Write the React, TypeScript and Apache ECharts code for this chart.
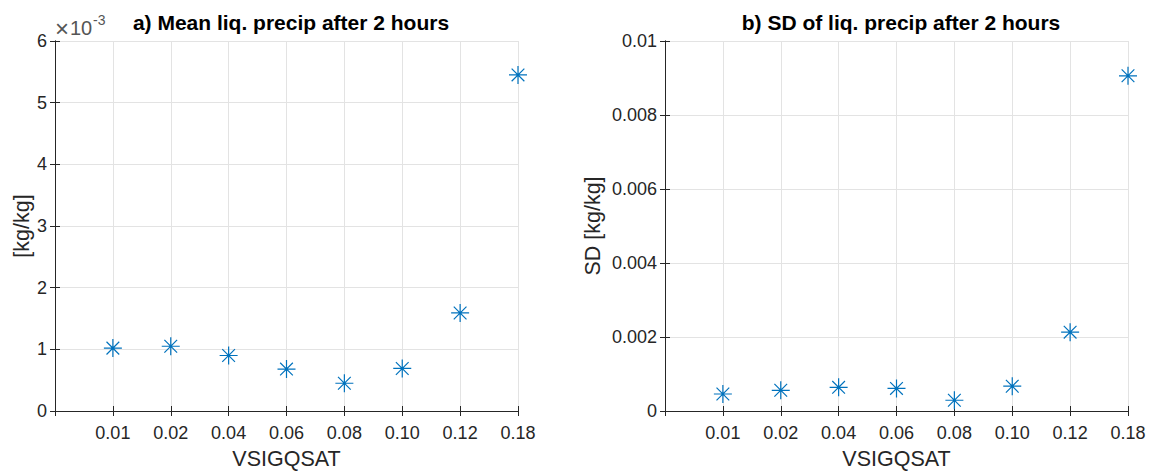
import React, { useEffect, useRef } from "react";
import * as echarts from "echarts";

// VSIGQSAT settings shown on the x axis (placed at positions 1..8)
const categories = ["0.01", "0.02", "0.04", "0.06", "0.08", "0.10", "0.12", "0.18"];
// Mean liquid precipitation after 2 hours [kg/kg]
const meanPrecip = [0.00102, 0.00105, 0.00090, 0.00068, 0.00045, 0.00069, 0.00159, 0.00545];
// Standard deviation of liquid precipitation after 2 hours [kg/kg]
const sdPrecip = [0.00046, 0.00056, 0.00064, 0.00061, 0.00029, 0.00067, 0.00213, 0.00906];
// Tick values of the two y axes
const meanTicks = [0, 0.001, 0.002, 0.003, 0.004, 0.005, 0.006];
const sdTicks = [0, 0.002, 0.004, 0.006, 0.008, 0.01];

const FONT = "'Liberation Sans', Arial, Helvetica, sans-serif";
const TXT = "#262626";
const AX = "#262626";
const GRIDC = "#e3e3e3";
const BLUE = "#0072BD";
const STAR = "path://M8,0 L8,16 M0,8 L16,8 M2.35,2.35 L13.65,13.65 M2.35,13.65 L13.65,2.35";
const TICK_FS = 18;
const LABEL_FS = 21.5;
const TITLE_FS = 21;

const trimNum = (v: number, dec: number) => {
  const s = v.toFixed(dec);
  return s.indexOf(".") >= 0 ? s.replace(/0+$/, "").replace(/\.$/, "") : s;
};

export default function App() {
  const ref = useRef<HTMLDivElement>(null);
  useEffect(() => {
    if (!ref.current) return;
    const chart = echarts.init(ref.current, undefined, { renderer: "svg" });

    const grids = [
      { left: 55, right: 636, top: 41, bottom: 60, outerBoundsMode: "none", containLabel: false },
      { left: 665, right: 26, top: 41, bottom: 60, outerBoundsMode: "none", containLabel: false },
    ];

    const xAxes: any[] = [];
    const yAxes: any[] = [];
    grids.forEach((_, gi) => {
      // bottom x axis with labels
      xAxes.push({
        type: "value",
        gridIndex: gi,
        min: 0,
        max: 8,
        interval: 1,
        position: "bottom",
        name: "VSIGQSAT",
        nameLocation: "middle",
        nameGap: 37,
        nameTextStyle: { fontFamily: FONT, fontSize: LABEL_FS, color: TXT },
        axisLine: { show: true, lineStyle: { color: AX, width: 1 } },
        axisTick: { show: true, inside: true, length: 5, lineStyle: { color: AX } },
        axisLabel: {
          fontFamily: FONT,
          fontSize: TICK_FS,
          color: TXT,
          margin: 13,
          showMinLabel: true,
          showMaxLabel: true,
          formatter: (v: number) => (v >= 1 && v <= categories.length ? categories[Math.round(v) - 1] : ""),
        },
        splitLine: { show: true, lineStyle: { color: GRIDC, width: 1 } },
      });
      // top x axis (box edge with inward ticks)
      xAxes.push({
        type: "value",
        gridIndex: gi,
        min: 0,
        max: 8,
        interval: 1,
        position: "top",
        axisLine: { show: true, lineStyle: { color: AX, width: 1 } },
        axisTick: { show: true, inside: true, length: 5, lineStyle: { color: AX } },
        axisLabel: { show: false },
        splitLine: { show: false },
      });
      const ticks = gi === 0 ? meanTicks : sdTicks;
      const step = ticks[1] - ticks[0];
      yAxes.push({
        type: "value",
        gridIndex: gi,
        min: ticks[0],
        max: ticks[ticks.length - 1],
        interval: step,
        position: "left",
        name: gi === 0 ? "[kg/kg]" : "SD [kg/kg]",
        nameLocation: "middle",
        nameGap: gi === 0 ? 21 : 61,
        nameTextStyle: { fontFamily: FONT, fontSize: LABEL_FS, color: TXT },
        axisLine: { show: true, lineStyle: { color: AX, width: 1 } },
        axisTick: { show: true, inside: true, length: 5, lineStyle: { color: AX } },
        axisLabel: {
          fontFamily: FONT,
          fontSize: TICK_FS,
          color: TXT,
          margin: 8,
          formatter: (v: number) =>
            gi === 0 ? trimNum(v * 1000, 3) : trimNum(v, 4),
        },
        splitLine: { show: true, lineStyle: { color: GRIDC, width: 1 } },
      });
      yAxes.push({
        type: "value",
        gridIndex: gi,
        min: ticks[0],
        max: ticks[ticks.length - 1],
        interval: step,
        position: "right",
        axisLine: { show: true, lineStyle: { color: AX, width: 1 } },
        axisTick: { show: true, inside: true, length: 5, lineStyle: { color: AX } },
        axisLabel: { show: false },
        splitLine: { show: false },
      });
    });

    const mkSeries = (vals: number[], gi: number) => ({
      type: "scatter",
      xAxisIndex: gi * 2,
      yAxisIndex: gi * 2,
      data: vals.map((v, i) => [i + 1, v]),
      symbol: STAR,
      symbolSize: 18,
      clip: false,
      itemStyle: { color: "none", borderColor: BLUE, borderWidth: 1.2, opacity: 1 },
      emphasis: { disabled: true },
    });

    chart.setOption({
      animation: false,
      backgroundColor: "#ffffff",
      title: [
        {
          text: "a) Mean liq. precip after 2 hours",
          left: 286,
          textAlign: "center",
          top: 7,
          textStyle: { fontFamily: FONT, fontSize: TITLE_FS, fontWeight: "bold", color: "#000" },
        },
        {
          text: "b) SD of liq. precip after 2 hours",
          left: 896,
          textAlign: "center",
          top: 7,
          textStyle: { fontFamily: FONT, fontSize: TITLE_FS, fontWeight: "bold", color: "#000" },
        },
      ],
      grid: grids,
      xAxis: xAxes,
      yAxis: yAxes,
      series: [mkSeries(meanPrecip, 0), mkSeries(sdPrecip, 1)],
      graphic: [
        // axis exponent: ×10^-3
        {
          type: "text",
          left: 55,
          top: 16,
          style: { text: "\u00d7", fontSize: 24, fontFamily: "Liberation Sans", fill: "#555" },
        },
        {
          type: "text",
          left: 70,
          top: 18,
          style: { text: "10", fontSize: 20, fontFamily: "Liberation Sans", fill: "#555" },
        },
        {
          type: "text",
          left: 93,
          top: 13,
          style: { text: "-3", fontSize: 14, fontFamily: "Liberation Sans", fill: "#555" },
        },
      ],
    });
    return () => chart.dispose();
  }, []);
  return (
    <div
      ref={ref}
      style={{ position: "fixed", left: 0, top: 0, width: 1154, height: 471, background: "#fff" }}
    />
  );
}
